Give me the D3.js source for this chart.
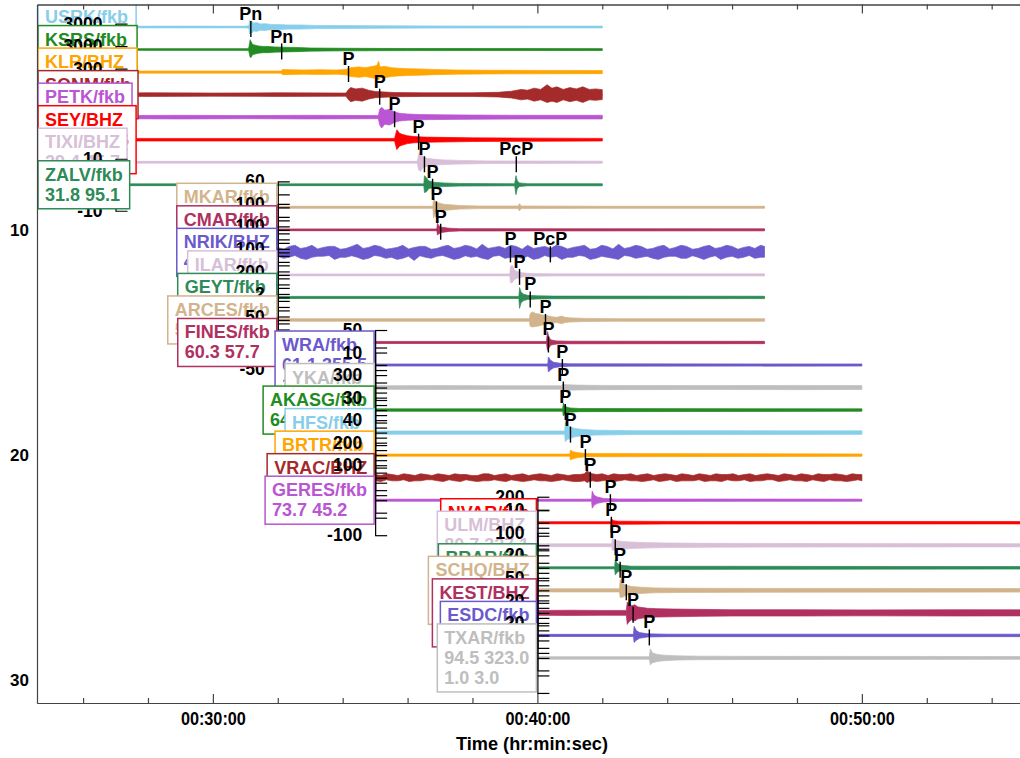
<!DOCTYPE html>
<html>
<head>
<meta charset="utf-8">
<script src="https://cdn.jsdelivr.net/npm/d3@7"></script>
<style>
  body { margin: 0; background: #fff; }
  svg { display: block; }
  text { font-family: "Liberation Sans", Arial, Helvetica, sans-serif; font-weight: bold; }
</style>
</head>
<body>
<script>
// ---- data: stations, top to bottom ----
var stations = ['USRK/fkb', 'KSRS/fkb', 'KLR/BHZ', 'SONM/fkb', 'PETK/fkb', 'SEY/BHZ', 'TIXI/BHZ', 'ZALV/fkb',
  'MKAR/fkb', 'CMAR/fkb', 'NRIK/BHZ', 'ILAR/fkb', 'GEYT/fkb', 'ARCES/fkb', 'FINES/fkb',
  'WRA/fkb', 'YKA/fkb', 'AKASG/fkb', 'HFS/fkb', 'BRTR/fkb', 'VRAC/BHZ', 'GERES/fkb',
  'NVAR/fkb', 'ULM/BHZ', 'BRAR/fkb', 'SCHQ/BHZ', 'KEST/BHZ', 'ESDC/fkb', 'TXAR/fkb'];

// distance / azimuth (deg)
var distAz = ['19.8 114.5', '20.3 101.9', '24.7 153.1', '26.5 124.4', '27.9 75.0', '29.2 110.6', '29.4 45.7', '31.8 95.1',
  '40.2 158.2', '42.9 191.0', '49.0 50.4', '54.6 73.8', '55.9 158.6', '58.2 352.3', '60.3 57.7',
  '61.1 355.5', '62.8 83.6', '64.3 106.9', '66.1 64.5', '67.4 105.8', '72.2 89.0', '73.7 45.2',
  '80.6 1.8', '80.7 327.1', '83.0 39.7', '84.2 349.8', '86.9 97.4', '89.5 79.3', '94.5 323.0'];

// filter band (Hz), only shown on some labels
var filterBand = [null, null, null, null, '1.0 3.0', '0.8 4.5', '0.8 4.5', null,
  null, null, null, null, null, null, null,
  '1.0 3.0', null, null, null, null, null, null,
  null, '0.8 4.5', null, '0.8 4.5', '0.8 4.5', '1.0 3.0', '1.0 3.0'];

var colors = ['#87ceeb', '#228b22', '#ffa500', '#a52a2a', '#ba55d3', '#ff0000', '#d8bfd8', '#2e8b57',
  '#d2b48c', '#b03060', '#6a5acd', '#d8bfd8', '#2e8b57', '#d2b48c', '#b03060',
  '#6a5acd', '#bebebe', '#228b22', '#87ceeb', '#ffa500', '#a52a2a', '#ba55d3',
  '#ff0000', '#d8bfd8', '#2e8b57', '#d2b48c', '#b03060', '#6a5acd', '#bebebe'];

// time windows (minutes after 00:00:00) per group, and group of each trace
var windows = [[27, 42], [32, 47], [35, 50], [40, 56]];
var groupOf = [0, 0, 0, 0, 0, 0, 0, 0, 1, 1, 1, 1, 1, 1, 1, 2, 2, 2, 2, 2, 2, 2, 3, 3, 3, 3, 3, 3, 3];

// amplitude axis full-scale value per trace
var axisTop = [3000, 3000, 3000, 300, 10, 100, 30, 10,
  60, 100, 100, 100, 200, 2, 50,
  50, 10, 300, 30, 40, 200, 100,
  200, 10, 100, 20, 50, 20, 20];
var noBottomLabel = ['TXAR/fkb'];

// phase picks [phase, minute]
var picks = [
  [['Pn', 31.17]], [['Pn', 32.12]], [['P', 34.18]], [['P', 35.14]], [['P', 35.60]], [['P', 36.34]],
  [['P', 36.52], ['PcP', 39.35]], [['P', 36.77]],
  [['P', 36.89]], [['P', 37.02]], [['P', 39.17], ['PcP', 40.40]], [['P', 39.45]], [['P', 39.78]],
  [['P', 40.25]], [['P', 40.34]],
  [['P', 40.77]], [['P', 40.80]], [['P', 40.86]], [['P', 41.02]], [['P', 41.48]], [['P', 41.63]], [['P', 42.25]],
  [['P', 42.28]], [['P', 42.40]], [['P', 42.55]], [['P', 42.74]], [['P', 42.95]], [['P', 43.45]], []
];

// waveform envelopes: [minute, up, (down)] in fractions of full scale
var envelopes = [
  // USRK
  [[27, .03], [29, .035], [31.0, .03], [31.11, .05], [31.13, .27], [31.16, .2], [31.2, .23], [31.26, .15], [31.35, .17],
   [31.45, .12], [31.6, .13], [31.8, .1], [32.0, .1], [32.3, .08], [32.7, .08], [33.2, .06], [34, .055], [35, .05], [37, .04], [42, .035]],
  // KSRS
  [[27, .03], [31.1, .03], [31.15, .38, .3], [31.18, .3], [31.22, .2], [31.3, .17], [31.4, .14], [31.55, .12], [31.7, .12],
   [31.9, .1], [32.2, .09], [32.6, .08], [33, .06], [34, .05], [36, .04], [42, .035]],
  // KLR
  [[27, .04], [32.1, .04], [32.15, .1], [32.4, .09], [32.8, .08], [33.3, .09], [33.8, .08], [34.1, .1], [34.25, .17], [34.5, .2],
   [34.7, .17], [34.9, .22], [35.05, .25], [35.11, .42, .3], [35.15, .2], [35.3, .22], [35.5, .17], [35.7, .15], [36, .13],
   [36.4, .12], [36.8, .1], [37.5, .08], [38.5, .07], [40, .065], [42, .06]],
  // SONM
  [[27, .06], [28, .07], [30, .06], [32, .07], [34.1, .06], [34.18, .2], [34.25, .27], [34.4, .22], [34.6, .25], [34.8, .17],
   [35.0, .12], [35.3, .1], [35.6, .08], [36.5, .07], [38, .07], [38.8, .09], [39.2, .13], [39.5, .2], [39.7, .17], [39.9, .25],
   [40.1, .2], [40.3, .38, .3], [40.45, .25], [40.6, .3], [40.8, .2], [41.0, .27], [41.2, .22], [41.4, .3], [41.6, .2],
   [41.8, .22], [42, .19]],
  // PETK
  [[27, .06], [29, .07], [31, .06], [33, .07], [35.1, .06], [35.14, .3], [35.2, .38, .42], [35.3, .27], [35.45, .3], [35.6, .2],
   [35.75, .15], [36, .12], [36.4, .1], [37, .09], [38, .08], [40, .07], [42, .07]],
  // SEY
  [[27, .05], [35.6, .05], [35.63, .2], [35.67, .38], [35.75, .25], [35.85, .2], [36, .15], [36.2, .12], [36.5, .1], [37, .09],
   [38, .07], [40, .06], [42, .05]],
  // TIXI
  [[27, .035], [36.3, .035], [36.34, .3], [36.4, .42, .35], [36.48, .2], [36.6, .15], [36.8, .12], [37.1, .09], [37.6, .07],
   [38.5, .05], [42, .04]],
  // ZALV
  [[27, .035], [36.5, .035], [36.52, .35, .3], [36.58, .27], [36.65, .15], [36.8, .1], [37.1, .07], [37.6, .05], [39.3, .04],
   [39.34, .35, .38], [39.38, .15], [39.45, .07], [39.7, .04], [42, .04]],
  // MKAR
  [[32, .04], [36.78, .04], [36.8, .38, .42], [36.86, .2], [36.95, .17], [37.1, .12], [37.3, .1], [37.6, .07], [38.2, .05],
   [39.4, .05], [39.45, .14], [39.5, .05], [42, .04], [47, .04]],
  // CMAR
  [[32, .035], [36.9, .035], [36.92, .25, .2], [36.97, .15], [37.05, .1], [37.3, .06], [37.6, .045], [47, .04]],
  // NRIK
  [[32.0, .19, .15], [32.18, .12, .23], [32.35, .23, .19], [32.53, .27, .12], [32.7, .15, .23], [32.88, .19, .27],
   [33.05, .27, .19], [33.23, .13, .15], [33.4, .19, .15], [33.58, .23, .12], [33.75, .23, .27], [33.93, .12, .19],
   [34.1, .15, .19], [34.28, .23, .13], [34.45, .31, .19], [34.63, .15, .27], [34.8, .19, .23], [34.98, .27, .12],
   [35.15, .23, .15], [35.33, .12, .23], [35.5, .15, .19], [35.68, .19, .27], [35.85, .27, .23], [36.03, .13, .15],
   [36.2, .19, .31], [36.38, .23, .13], [36.55, .23, .19], [36.73, .12, .23], [36.9, .15, .15], [37.08, .23, .12],
   [37.25, .27, .19], [37.43, .15, .27], [37.6, .19, .23], [37.78, .27, .13], [37.95, .23, .19], [38.13, .13, .15],
   [38.3, .31, .23], [38.48, .15, .27], [38.65, .19, .15], [38.83, .23, .12], [39.0, .15, .23], [39.18, .27, .19],
   [39.35, .23, .19], [39.53, .12, .23], [39.7, .27, .15], [39.88, .15, .27], [40.05, .19, .23], [40.23, .23, .12],
   [40.4, .15, .19], [40.58, .27, .15], [40.75, .23, .27], [40.93, .13, .19], [41.1, .19, .19], [41.28, .23, .12],
   [41.45, .27, .15], [41.63, .12, .27], [41.8, .15, .23], [41.98, .27, .15], [42.15, .23, .19], [42.33, .13, .23],
   [42.5, .31, .27], [42.68, .15, .12], [42.85, .19, .15], [43.03, .27, .23], [43.2, .23, .19], [43.38, .12, .15],
   [43.55, .15, .23], [43.73, .23, .27], [43.9, .27, .19], [44.08, .13, .15], [44.25, .19, .15], [44.43, .27, .23],
   [44.6, .23, .23], [44.78, .12, .13], [44.95, .15, .19], [45.13, .23, .27], [45.3, .27, .19], [45.48, .15, .13],
   [45.65, .19, .27], [45.83, .27, .19], [46.0, .23, .15], [46.18, .12, .23], [46.35, .19, .19], [46.53, .23, .12],
   [46.7, .15, .23], [46.88, .27, .19], [47.0, .23, .19]],
  // ILAR
  [[32, .035], [39.15, .035], [39.17, .3], [39.22, .38, .3], [39.3, .17], [39.4, .12], [39.55, .08], [39.8, .05], [40.5, .04], [47, .04]],
  // GEYT
  [[32, .04], [39.43, .04], [39.45, .38, .42], [39.5, .2], [39.58, .12], [39.7, .08], [40, .06], [40.5, .05], [47, .045]],
  // ARCES
  [[32, .05], [39.75, .05], [39.78, .25], [39.85, .31, .27], [39.95, .25], [40.05, .23], [40.15, .19], [40.3, .17], [40.45, .12],
   [40.6, .1], [40.75, .15], [40.85, .1], [41, .08], [41.5, .06], [42.5, .05], [47, .05]],
  // FINES
  [[32, .04], [40.28, .04], [40.31, .42, .3], [40.36, .2], [40.42, .1], [40.6, .06], [41, .05], [47, .045]],
  // WRA
  [[35, .03], [40.32, .03], [40.34, .23, .2], [40.4, .14], [40.5, .08], [40.7, .05], [41, .035], [50, .03]],
  // YKA
  [[35, .05], [37, .055], [39, .05], [40.75, .05], [40.78, .1], [40.9, .08], [41.2, .07], [42, .06], [45, .055], [48, .06], [50, .055]],
  // AKASG
  [[35, .035], [40.78, .035], [40.8, .2, .17], [40.86, .1], [41, .06], [41.3, .045], [50, .035]],
  // HFS
  [[35, .045], [40.84, .045], [40.86, .31, .26], [40.92, .2], [41, .17], [41.15, .12], [41.4, .09], [41.8, .07], [43, .055], [50, .05]],
  // BRTR
  [[35, .03], [41.0, .03], [41.02, .14], [41.1, .1], [41.25, .07], [41.5, .045], [50, .035]],
  // VRAC
  [[35.0, .09, .09], [35.18, .06, .11], [35.35, .11, .06], [35.53, .09, .09], [35.7, .06, .09], [35.88, .11, .06],
   [36.05, .09, .11], [36.23, .06, .09], [36.4, .11, .09], [36.58, .09, .06], [36.75, .06, .06], [36.93, .11, .09],
   [37.1, .09, .11], [37.28, .06, .06], [37.45, .11, .09], [37.63, .09, .11], [37.8, .09, .06], [37.98, .06, .09],
   [38.15, .06, .11], [38.33, .11, .09], [38.5, .11, .09], [38.68, .06, .06], [38.85, .09, .09], [39.03, .11, .11],
   [39.2, .06, .06], [39.38, .09, .09], [39.55, .11, .11], [39.73, .06, .09], [39.9, .09, .06], [40.08, .11, .09],
   [40.25, .09, .09], [40.43, .06, .11], [40.6, .11, .09], [40.78, .09, .06], [40.95, .06, .09], [41.13, .09, .11],
   [41.3, .09, .11], [41.45, .11, .09], [41.54, .2, .14], [41.6, .14, .11], [41.7, .11, .09], [41.83, .09, .11],
   [42.0, .11, .09], [42.18, .06, .06], [42.35, .11, .11], [42.53, .09, .09], [42.7, .09, .06], [42.88, .11, .09],
   [43.05, .06, .09], [43.23, .09, .11], [43.4, .11, .09], [43.58, .06, .06], [43.75, .09, .11], [43.93, .11, .09],
   [44.1, .09, .06], [44.28, .06, .11], [44.45, .11, .09], [44.63, .09, .09], [44.8, .06, .09], [44.98, .11, .06],
   [45.15, .09, .11], [45.33, .06, .09], [45.5, .11, .09], [45.68, .09, .11], [45.85, .09, .06], [46.03, .11, .09],
   [46.2, .06, .09], [46.38, .09, .06], [46.55, .11, .11], [46.73, .06, .09], [46.9, .09, .09], [47.08, .11, .06],
   [47.25, .09, .06], [47.43, .06, .11], [47.6, .11, .09], [47.78, .09, .06], [47.95, .06, .09], [48.13, .11, .09],
   [48.3, .09, .11], [48.48, .06, .06], [48.65, .11, .09], [48.83, .09, .11], [49.0, .09, .06], [49.18, .11, .09],
   [49.35, .09, .09], [49.53, .06, .11], [49.7, .11, .09], [49.88, .09, .06], [50.0, .09, .09]],
  // GERES
  [[35, .03], [41.67, .03], [41.69, .26, .23], [41.75, .14], [41.85, .09], [42.05, .05], [42.5, .035], [50, .03]],
  // NVAR
  [[40, .04], [42.26, .04], [42.28, .15, .12], [42.35, .08], [42.5, .06], [44, .05], [56, .045]],
  // ULM
  [[40, .04], [42.29, .04], [42.31, .2, .14], [42.4, .14], [42.6, .11], [42.9, .09], [43.3, .08], [44, .065], [45.5, .055],
   [48, .05], [56, .045]],
  // BRAR
  [[40, .03], [42.38, .03], [42.4, .23, .2], [42.47, .12], [42.6, .07], [42.9, .045], [56, .035]],
  // SCHQ
  [[40, .045], [42.53, .045], [42.55, .31, .2], [42.62, .2], [42.72, .15], [42.9, .11], [43.2, .09], [43.6, .07], [44.5, .06],
   [47, .055], [56, .05]],
  // KEST
  [[40, .07], [41, .075], [42, .07], [42.74, .07], [42.77, .31, .33], [42.82, .26], [42.9, .2], [43.0, .23], [43.1, .17],
   [43.25, .15], [43.4, .13], [43.7, .12], [44.2, .11], [45, .1], [46, .09], [48, .09], [50, .085], [53, .09], [56, .085]],
  // ESDC
  [[40, .03], [42.96, .03], [42.98, .26, .2], [43.05, .14], [43.15, .08], [43.4, .045], [44, .035], [56, .035]],
  // TXAR
  [[40, .035], [43.45, .035], [43.48, .26, .2], [43.55, .14], [43.7, .1], [43.9, .08], [44.3, .06], [45, .05], [47, .045], [56, .04]]
];

var majorMinutes = [30, 40, 50];
var minorMinutes = [26, 28, 32, 34, 36, 38, 42, 44, 46, 48, 52, 54];
var rowLabels = [10, 20, 30];

// ---- layout ----
var width = 1020, height = 758;
var plotLeft = 37, plotTop = 4.5, plotBottom = 703;
var svg = d3.select('body').append('svg')
  .attr('width', width)
  .attr('height', height);

var x = d3.scaleLinear().domain([24.58, 56]).range([plotLeft, plotLeft + (56 - 24.58) * 32.45]);
var y = d3.scaleLinear().domain([0, 31]).range([plotTop, plotBottom]);

svg.append('clipPath').attr('id', 'plot-clip')
  .append('rect').attr('x', plotLeft).attr('y', plotTop).attr('width', 1100).attr('height', plotBottom - plotTop);

var plot = svg.append('g').attr('clip-path', 'url(#plot-clip)');

// half height (px) of each trace's amplitude axis
function axisHalf(i) {
  if (groupOf[i] < 2 || stations[i] === 'NVAR/fkb') return 26;
  return 35;
}

function fmtTime(m) {
  return '00:' + d3.format('02d')(m) + ':00';
}

// waveforms
stations.forEach((name, i) => {
  var base = y(i + 1), h = axisHalf(i);
  var amp = d3.scaleLinear().domain([-1, 1]).range([base + h, base - h]);
  var win = windows[groupOf[i]];
  var area = d3.area()
    .x(d => x(d[0]))
    .y0(d => amp(-(d.length > 2 ? d[2] : d[1])))
    .y1(d => amp(d[1]));
  var g = plot.append('g');
  g.append('path')
    .attr('d', d3.line()([[x(win[0]), amp(0)], [x(win[1]), amp(0)]]))
    .attr('stroke', colors[i]).attr('stroke-width', 1.5).attr('fill', 'none');
  g.append('path')
    .datum(envelopes[i])
    .attr('d', area)
    .attr('fill', colors[i])
    .attr('stroke', colors[i]).attr('stroke-width', 0.7);
});

// phase picks
stations.forEach((name, i) => {
  var base = y(i + 1);
  picks[i].forEach(p => {
    plot.append('line')
      .attr('x1', x(p[1])).attr('x2', x(p[1]))
      .attr('y1', base - 6).attr('y2', base + 10)
      .attr('stroke', '#000').attr('stroke-width', 1.4);
    plot.append('text')
      .attr('x', x(p[1])).attr('y', base - 7)
      .attr('text-anchor', 'middle')
      .attr('font-size', 18)
      .text(p[0]);
  });
});

// amplitude axes and station labels, trace by trace
stations.forEach((name, i) => {
  var base = y(i + 1), h = axisHalf(i), v = axisTop[i];
  var x0 = x(windows[groupOf[i]][0]);
  var sc = d3.scaleLinear().domain([-v, v]).range([base + h, base - h]);
  var showBottom = noBottomLabel.indexOf(name) < 0;
  var ax = plot.append('g')
    .attr('transform', 'translate(' + x0 + ',0)')
    .call(d3.axisLeft(sc)
      .tickValues([-v, -v / 2, 0, v / 2, v])
      .tickSize(-12).tickSizeOuter(0).tickPadding(13)
      .tickFormat(d => d === v ? v : (d === -v && showBottom ? -v : '')));
  ax.selectAll('path, line').attr('stroke', '#000').attr('stroke-width', 1.2);
  ax.selectAll('text').attr('font-size', 17.5).attr('fill', '#000')
    .attr('font-family', '"Liberation Sans", Arial, sans-serif');

  // label box
  var lines = [name, distAz[i]];
  if (filterBand[i]) lines.push(filterBand[i]);
  var bh = 8 + 20 * lines.length;
  var bt = base - bh / 2;
  var box = plot.append('g');
  var rect = box.append('rect');
  var texts = box.selectAll('text').data(lines).join('text')
    .attr('y', (d, k) => bt + 20 + 20 * k)
    .attr('font-size', 18)
    .attr('fill', colors[i])
    .text(d => d);
  var tw = d3.max(texts.nodes(), n => n.getComputedTextLength());
  var bw = tw + 14;
  var bl = Math.max(plotLeft + 1, x0 - 1 - bw);
  texts.attr('x', bl + 7);
  rect.attr('x', bl).attr('y', bt).attr('width', bw).attr('height', bh)
    .attr('fill', '#fff').attr('stroke', colors[i]).attr('stroke-width', 1.5);
});

// frame axes
var axB = svg.append('g').attr('transform', 'translate(0,' + plotBottom + ')')
  .call(d3.axisBottom(x).tickValues(majorMinutes).tickFormat(fmtTime).tickSize(-9).tickSizeOuter(0).tickPadding(9));
var axBm = svg.append('g').attr('transform', 'translate(0,' + plotBottom + ')')
  .call(d3.axisBottom(x).tickValues(minorMinutes).tickFormat('').tickSize(-5).tickSizeOuter(0));
var axT = svg.append('g').attr('transform', 'translate(0,' + plotTop + ')')
  .call(d3.axisTop(x).tickValues(majorMinutes).tickFormat('').tickSize(-9).tickSizeOuter(0));
var axTm = svg.append('g').attr('transform', 'translate(0,' + plotTop + ')')
  .call(d3.axisTop(x).tickValues(minorMinutes).tickFormat('').tickSize(-5).tickSizeOuter(0));
var axL = svg.append('g').attr('transform', 'translate(' + plotLeft + ',0)')
  .call(d3.axisLeft(y).tickValues(rowLabels).tickSize(0).tickSizeOuter(0).tickPadding(8));

[axB, axBm, axT, axTm, axL].forEach(a => {
  a.selectAll('path, line').attr('stroke', '#444').attr('stroke-width', 1.2);
  a.selectAll('text').attr('font-size', 17).attr('fill', '#000')
    .attr('font-family', '"Liberation Sans", Arial, sans-serif');
});
axB.selectAll('text').attr('font-size', 18)
  .attr('textLength', 65).attr('lengthAdjust', 'spacingAndGlyphs');

svg.append('text')
  .attr('x', 532).attr('y', 750)
  .attr('text-anchor', 'middle')
  .attr('font-size', 18)
  .attr('textLength', 152).attr('lengthAdjust', 'spacingAndGlyphs')
  .text('Time (hr:min:sec)');
</script>
</body>
</html>
